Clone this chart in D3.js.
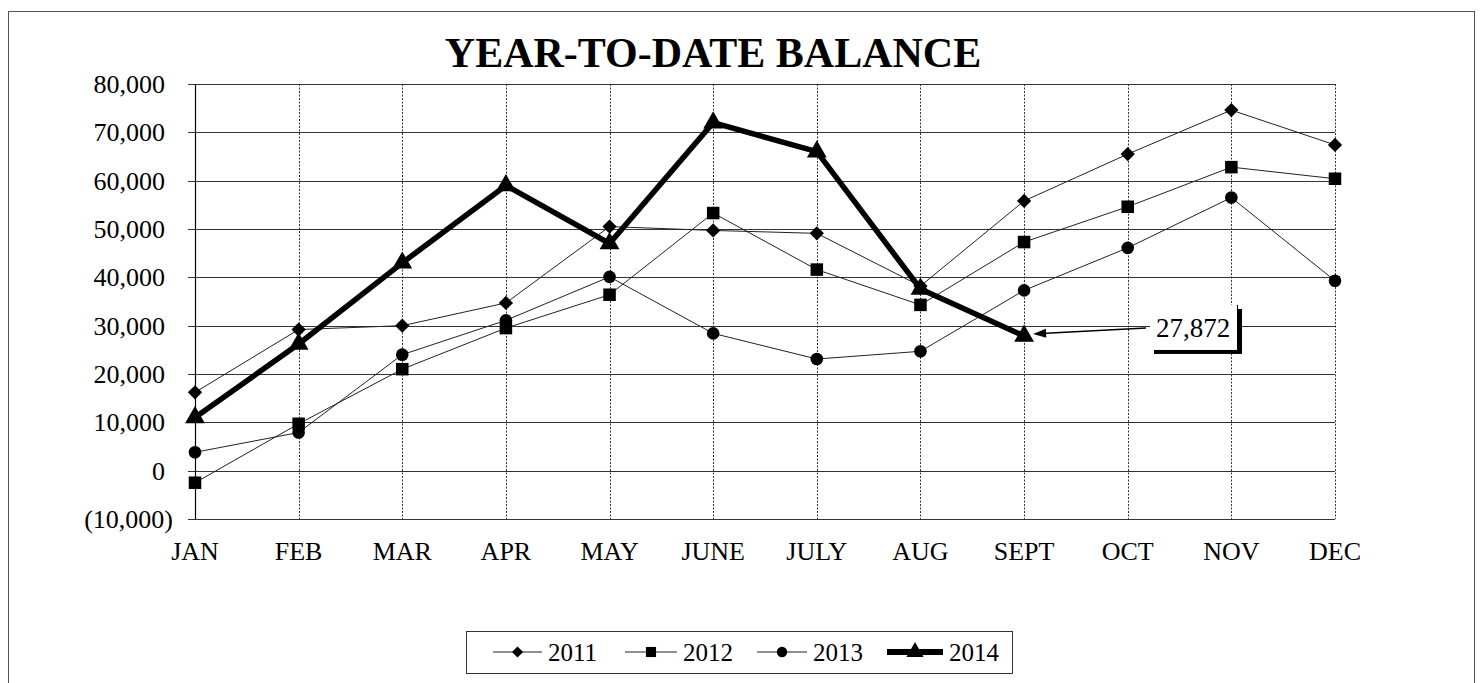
<!DOCTYPE html>
<html>
<head>
<meta charset="utf-8">
<script src="https://cdn.jsdelivr.net/npm/d3@7"></script>
<style>
  html, body { margin: 0; padding: 0; background: #fff; }
  svg { display: block; font-family: "Liberation Serif", "Times New Roman", serif; }
</style>
</head>
<body>
<svg id="chart" width="1481" height="683"></svg>
<script>
const months = ["JAN","FEB","MAR","APR","MAY","JUNE","JULY","AUG","SEPT","OCT","NOV","DEC"];
const yTicks = [-10000, 0, 10000, 20000, 30000, 40000, 50000, 60000, 70000, 80000];
const seriesNames = ["2011", "2012", "2013", "2014"];
const values2011 = [16200, 29200, 30000, 34700, 50500, 49700, 49100, 38200, 55800, 65500, 74600, 67400];
const values2012 = [-2500, 9700, 21000, 29500, 36400, 53300, 41600, 34300, 47300, 54600, 62800, 60400];
const values2013 = [3800, 7900, 24000, 31100, 40100, 28400, 23100, 24700, 37300, 46100, 56500, 39300];
const values2014 = [11000, 26200, 43000, 59000, 47000, 72000, 66000, 37600, 27872];
const titleText = "YEAR-TO-DATE BALANCE";
const calloutMonth = "SEPT";
const calloutValue = 27872;

const svg = d3.select("#chart");

// outer border
svg.append("rect").attr("x", 8.5).attr("y", 11.5).attr("width", 1466).attr("height", 690)
  .attr("fill", "none").attr("stroke", "#555").attr("stroke-width", 1);

const x = d3.scalePoint().domain(months).range([195, 1335]);
const y = d3.scaleLinear().domain([-10000, 80000]).range([519, 84]);

// title
svg.append("text").attr("x", 713).attr("y", 67).attr("text-anchor", "middle")
  .attr("font-size", 42).attr("font-weight", "bold").attr("fill", "#000").text(titleText);

// horizontal gridlines (with left tick)
svg.append("g").selectAll("line").data(yTicks).join("line")
  .attr("x1", 188).attr("x2", 1335)
  .attr("y1", d => Math.round(y(d)) + 0.5).attr("y2", d => Math.round(y(d)) + 0.5)
  .attr("stroke", "#333").attr("stroke-width", 1);

// vertical gridlines
svg.append("g").selectAll("line").data(months.slice(1)).join("line")
  .attr("x1", d => Math.round(x(d)) + 0.5).attr("x2", d => Math.round(x(d)) + 0.5)
  .attr("y1", y(80000)).attr("y2", y(-10000))
  .attr("stroke", "#333").attr("stroke-width", 1).attr("stroke-dasharray", "2,1.5");

// y axis line
svg.append("line").attr("x1", 195.5).attr("x2", 195.5).attr("y1", y(80000)).attr("y2", y(-10000))
  .attr("stroke", "#000").attr("stroke-width", 1.2);

// y tick labels
const fmt = d3.format(",");
svg.append("g").selectAll("text").data(yTicks).join("text")
  .attr("x", 173).attr("dx", d => d < 0 ? 0 : -8)
  .attr("y", d => y(d)).attr("dy", "0.34em")
  .attr("text-anchor", "end").attr("font-size", 26).attr("fill", "#000")
  .text(d => d < 0 ? "(" + fmt(-d) + ")" : fmt(d));

// x tick labels
svg.append("g").selectAll("text").data(months).join("text")
  .attr("x", d => x(d)).attr("y", 560).attr("text-anchor", "middle")
  .attr("font-size", 26).attr("fill", "#000").text(d => d);

// series
const series = [
  { name: seriesNames[0], values: values2011, shape: d3.symbolDiamond2, size: 130, width: 1, color: "#222" },
  { name: seriesNames[1], values: values2012, shape: d3.symbolSquare2, size: 200, width: 1, color: "#222" },
  { name: seriesNames[2], values: values2013, shape: d3.symbolCircle, size: 125, width: 1, color: "#222" },
  { name: seriesNames[3], values: values2014, shape: d3.symbolTriangle, size: 170, width: 5.5, color: "#000" }
];

const line = d3.line().x((d, i) => x(months[i])).y(d => y(d));

series.forEach(s => {
  const g = svg.append("g");
  g.append("path").attr("d", line(s.values)).attr("fill", "none")
    .attr("stroke", s.color).attr("stroke-width", s.width).attr("stroke-linejoin", "miter");
  g.selectAll("path.m").data(s.values).join("path").attr("class", "m")
    .attr("transform", (d, i) => `translate(${x(months[i])},${y(d)})`)
    .attr("d", d3.symbol().type(s.shape).size(s.size)).attr("fill", "#000");
});

// callout
const cx = x(calloutMonth), cy = y(calloutValue);
const tipX = cx + 9, tipY = cy - 2;
const tailX = 1146, tailY = cy - 8;
const ang = Math.atan2(tailY - tipY, tailX - tipX);
const hl = 13, hw = 4.5;
const bx = tipX + hl * Math.cos(ang), by = tipY + hl * Math.sin(ang);
svg.append("line").attr("x1", tailX).attr("y1", tailY).attr("x2", bx).attr("y2", by)
  .attr("stroke", "#000").attr("stroke-width", 1.5);
svg.append("path").attr("d", `M${tipX},${tipY} L${bx - hw * Math.sin(ang)},${by + hw * Math.cos(ang)} L${bx + hw * Math.sin(ang)},${by - hw * Math.cos(ang)} Z`)
  .attr("fill", "#000");

// callout box with shadow
const boxX = 1150, boxY = cy - 31, boxW = 88, boxH = 45;
svg.append("rect").attr("x", boxX + 4).attr("y", boxY + 4).attr("width", boxW).attr("height", boxH).attr("fill", "#000");
svg.append("rect").attr("x", boxX).attr("y", boxY).attr("width", boxW).attr("height", boxH).attr("fill", "#fff");
svg.append("line").attr("x1", boxX + boxW - 0.5).attr("x2", boxX + boxW - 0.5).attr("y1", boxY).attr("y2", boxY + boxH)
  .attr("stroke", "#000").attr("stroke-width", 1);
svg.append("text").attr("x", 1193).attr("y", cy + 1).attr("text-anchor", "middle")
  .attr("font-size", 27).attr("fill", "#000").text(fmt(calloutValue));

// legend
const lg = svg.append("g");
lg.append("rect").attr("x", 466.5).attr("y", 631.5).attr("width", 546).attr("height", 42)
  .attr("fill", "#fff").attr("stroke", "#333").attr("stroke-width", 1);
const legX = [493, 625, 757, 887];
const legLen = [49, 52, 50, 56];
const legSizes = [80, 130, 85, 130];
series.forEach((s, i) => {
  const ly = 652;
  lg.append("line").attr("x1", legX[i]).attr("x2", legX[i] + legLen[i]).attr("y1", ly).attr("y2", ly)
    .attr("stroke", s.color).attr("stroke-width", s.width === 1 ? 1.2 : 6);
  lg.append("path").attr("transform", `translate(${legX[i] + legLen[i] / 2},${ly})`)
    .attr("d", d3.symbol().type(s.shape).size(legSizes[i])).attr("fill", "#000");
  lg.append("text").attr("x", legX[i] + legLen[i] + 6).attr("y", 661).attr("font-size", 25)
    .attr("fill", "#000").text(s.name);
});
</script>
</body>
</html>
